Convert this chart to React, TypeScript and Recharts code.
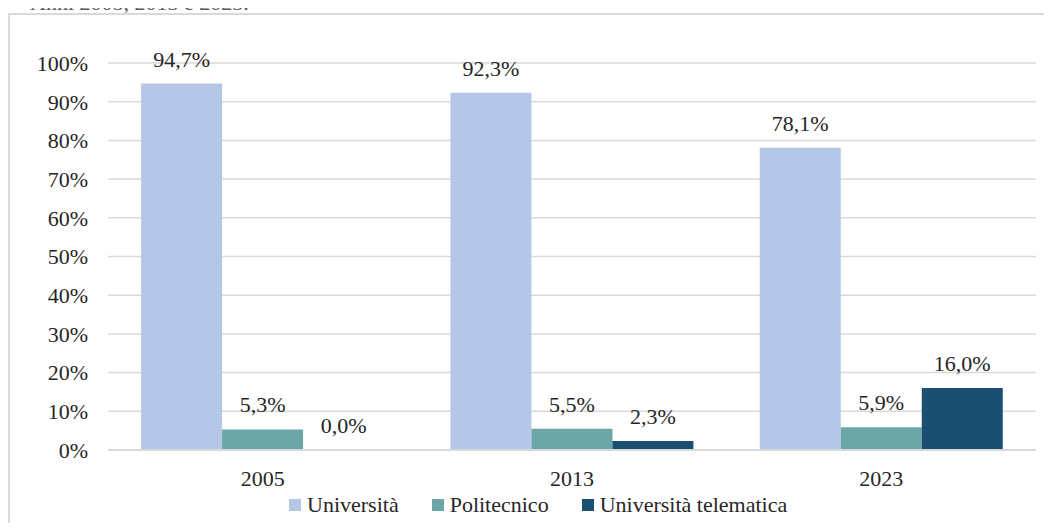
import { BarChart, Bar, XAxis, YAxis, CartesianGrid, Legend, LabelList } from "recharts";

const years = ["2005", "2013", "2023"];
const universita = [94.7, 92.3, 78.1];
const politecnico = [5.3, 5.5, 5.9];
const telematica = [0.0, 2.3, 16.0];
const yTicks = [0, 10, 20, 30, 40, 50, 60, 70, 80, 90, 100];

const SERIES = [
  { key: "universita", name: "Università", color: "#b4c7e7" },
  { key: "politecnico", name: "Politecnico", color: "#6aa6a6" },
  { key: "telematica", name: "Università telematica", color: "#1b4f72" },
];

const data = years.map((year, i) => ({
  year,
  universita: universita[i],
  politecnico: politecnico[i],
  telematica: telematica[i],
}));

const FONT = "Liberation Serif";
const TEXT = "#262626";
const FS = 22;

const fmt = (v: number) => `${v.toFixed(1).replace(".", ",")}%`;

function LegendBox() {
  return (
    <div style={{ display: "flex", alignItems: "center", fontFamily: FONT, fontSize: FS, color: TEXT }}>
      {SERIES.map((s) => (
        <div key={s.key} style={{ display: "flex", alignItems: "center", marginRight: 33 }}>
          <span style={{ display: "inline-block", width: 12, height: 12, background: s.color, marginRight: 6 }} />
          <span>{s.name}</span>
        </div>
      ))}
    </div>
  );
}

export default function App() {
  return (
    <div style={{ position: "relative", width: 1052, height: 531, margin: -8, overflow: "hidden", background: "#fff", fontFamily: FONT }}>
      <div
        style={{
          position: "absolute",
          left: 30,
          top: -8,
          fontFamily: FONT,
          fontSize: FS,
          lineHeight: "22px",
          color: "#595959",
          whiteSpace: "nowrap",
        }}
      >
        Anni 2005, 2013 e 2023.
      </div>
      <div
        style={{
          position: "absolute",
          left: 8,
          top: 13,
          width: 1036,
          height: 530,
          border: "2px solid #d9d9d9",
        }}
      >
        <BarChart
          width={1036}
          height={516}
          data={data}
          margin={{ top: 48, right: 10, left: 0, bottom: 4 }}
          barGap={0}
          barCategoryGap="10.7%"
        >
          <CartesianGrid vertical={false} stroke="#d9d9d9" strokeWidth={1.5} />
          <XAxis
            dataKey="year"
            axisLine={{ stroke: "#d9d9d9", strokeWidth: 2 }}
            tickLine={false}
            tickMargin={14}
            height={42}
            tick={{ fill: TEXT, fontSize: FS, fontFamily: FONT }}
          />
          <YAxis
            domain={[0, 100]}
            ticks={yTicks}
            interval={0}
            width={98}
            axisLine={false}
            tickLine={false}
            tickSize={0}
            tickMargin={20}
            tickFormatter={(v: number) => `${v}%`}
            tick={{ fill: TEXT, fontSize: FS, fontFamily: FONT }}
          />
          <Legend
            verticalAlign="bottom"
            height={35}
            content={() => <LegendBox />}
            wrapperStyle={{ left: 279, width: "auto" }}
          />
          {SERIES.map((s) => (
            <Bar key={s.key} dataKey={s.key} name={s.name} fill={s.color} minPointSize={0.01} isAnimationActive={false}>
              <LabelList
                dataKey={s.key}
                position="top"
                offset={17}
                formatter={fmt}
                fill={TEXT}
                fontSize={FS}
                fontFamily={FONT}
              />
            </Bar>
          ))}
        </BarChart>
      </div>
    </div>
  );
}
